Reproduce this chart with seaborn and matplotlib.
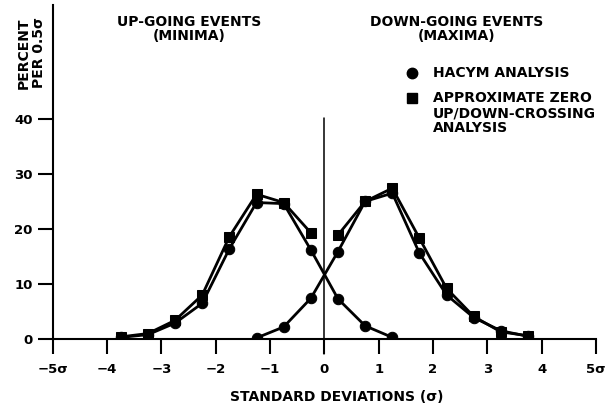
import matplotlib
matplotlib.use("Agg")
import matplotlib.pyplot as plt
import numpy as np
import pandas as pd
import seaborn as sns

# srodki przedzialow 0.5 sigma
sigma_min_hacym = [-3.75, -3.25, -2.75, -2.25, -1.75, -1.25, -0.75, -0.25, 0.25, 0.75, 1.25]
pct_min_hacym = [0.3, 0.8, 2.9, 6.5, 16.4, 24.8, 24.6, 16.2, 7.3, 2.4, 0.3]

sigma_min_approx = [-3.75, -3.25, -2.75, -2.25, -1.75, -1.25, -0.75, -0.25]
pct_min_approx = [0.4, 1.0, 3.4, 8.0, 18.6, 26.3, 24.8, 19.3]

sigma_max_hacym = [-1.25, -0.75, -0.25, 0.25, 0.75, 1.25, 1.75, 2.25, 2.75, 3.25, 3.75]
pct_max_hacym = [0.2, 2.2, 7.4, 15.9, 25.0, 26.5, 15.6, 8.0, 3.9, 1.5, 0.5]

sigma_max_approx = [0.25, 0.75, 1.25, 1.75, 2.25, 2.75, 3.25, 3.75]
pct_max_approx = [18.9, 25.0, 27.4, 18.3, 9.2, 4.1, 1.3, 0.6]

x_ticks = [-5, -4, -3, -2, -1, 0, 1, 2, 3, 4, 5]
x_tick_labels = ["\u22125\u03c3", "\u22124", "\u22123", "\u22122", "\u22121", "0", "1", "2", "3", "4", "5\u03c3"]
y_ticks = [0, 10, 20, 30, 40]

# tabela w formacie dlugim
parts = []
for sig, pct, method, curve in [
    (sigma_min_hacym, pct_min_hacym, "HACYM", "min_h"),
    (sigma_min_approx, pct_min_approx, "APPROX", "min_a"),
    (sigma_max_hacym, pct_max_hacym, "HACYM", "max_h"),
    (sigma_max_approx, pct_max_approx, "APPROX", "max_a"),
]:
    parts.append(pd.DataFrame({"sigma": sig, "percent": pct, "method": method, "curve": curve}))
df = pd.concat(parts, ignore_index=True)

sns.set_style("ticks")
plt.rcParams["font.family"] = ["DejaVu Sans"]
plt.rcParams["font.weight"] = "bold"
plt.rcParams["text.color"] = "black"
plt.rcParams["axes.edgecolor"] = "black"
plt.rcParams["xtick.color"] = "black"
plt.rcParams["ytick.color"] = "black"

fig = plt.figure(figsize=(6.15, 4.08), dpi=100)
ax = fig.add_axes([0.086, 0.169, 0.883, 0.819])

sns.lineplot(data=df, x="sigma", y="percent", style="method", units="curve",
             estimator=None, markers={"HACYM": "o", "APPROX": "s"}, dashes=False,
             color="black", linewidth=2.0, markersize=7.5, markeredgecolor="black",
             legend=False, sort=False, ax=ax)

# pionowa linia w zerze
ax.plot([0, 0], [-2.8, 40.2], color="black", linewidth=1.1, clip_on=False)

ax.set_xlim(-5, 5)
ax.set_ylim(0, 60.7)
ax.set_xticks(x_ticks)
ax.set_xticklabels(x_tick_labels)
ax.set_yticks(y_ticks)
ax.tick_params(axis="both", length=10.5, width=1.5, direction="out", labelsize=9.5,
               color="black", labelcolor="black")
ax.tick_params(axis="x", pad=6.5)
ax.tick_params(axis="y", pad=4)
for lab in ax.get_xticklabels() + ax.get_yticklabels():
    lab.set_fontweight("bold")
ax.set_xlabel("")
ax.set_ylabel("")
sns.despine(ax=ax)
ax.spines["left"].set_linewidth(1.5)
ax.spines["bottom"].set_linewidth(1.5)
ax.spines["left"].set_color("black")
ax.spines["bottom"].set_color("black")

fs = 10
fig.text(337 / 615, 1 - 397 / 408, "STANDARD DEVIATIONS (\u03c3)", ha="center", va="center",
         fontsize=fs, fontweight="bold")
fig.text(31 / 615, 1 - 53 / 408, "PERCENT\nPER 0.5\u03c3", rotation=90, ha="center", va="center",
         multialignment="center", fontsize=fs, fontweight="bold", linespacing=1.1)
fig.text(189 / 615, 1 - 29 / 408, "UP-GOING EVENTS\n(MINIMA)", ha="center", va="center",
         multialignment="center", fontsize=fs, fontweight="bold", linespacing=1.05)
fig.text(457 / 615, 1 - 29 / 408, "DOWN-GOING EVENTS\n(MAXIMA)", ha="center", va="center",
         multialignment="center", fontsize=fs, fontweight="bold", linespacing=1.05)

# legenda
fig.lines.append(plt.Line2D([412 / 615], [1 - 73 / 408], marker="o", color="black",
                            markersize=7.5, transform=fig.transFigure))
fig.lines.append(plt.Line2D([412 / 615], [1 - 98 / 408], marker="s", color="black",
                            markersize=7, transform=fig.transFigure))
fig.text(433 / 615, 1 - 73 / 408, "HACYM ANALYSIS", ha="left", va="center",
         fontsize=fs, fontweight="bold")
fig.text(433 / 615, 1 - 91 / 408, "APPROXIMATE ZERO\nUP/DOWN-CROSSING\nANALYSIS", ha="left", va="top",
         fontsize=fs, fontweight="bold", linespacing=1.1)

fig.savefig("out.png", dpi=100)
